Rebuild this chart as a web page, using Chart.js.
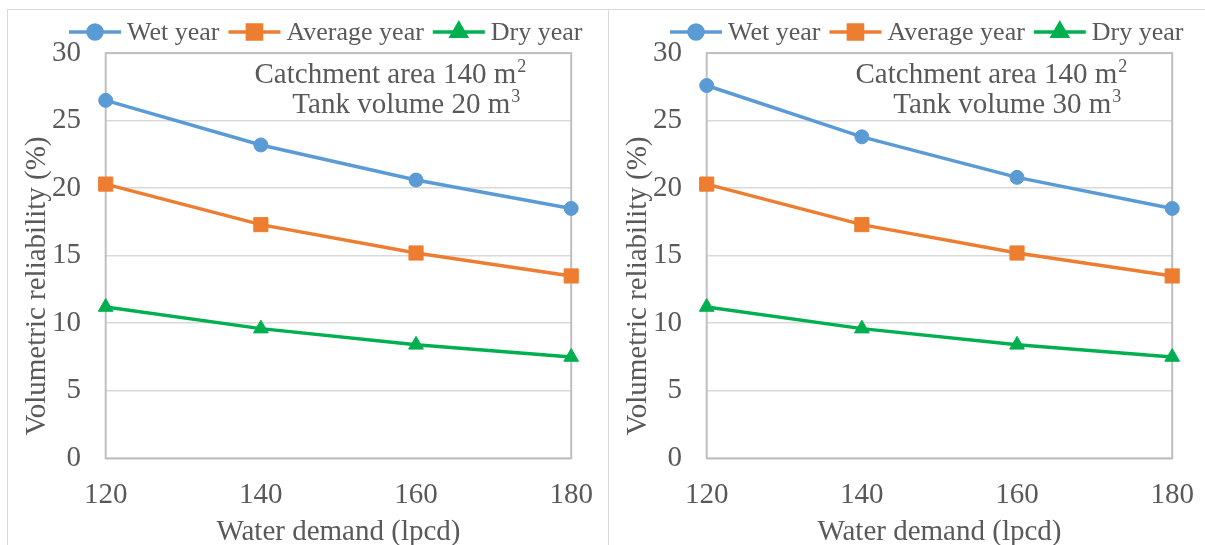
<!DOCTYPE html>
<html lang="en">
<head>
  <meta charset="UTF-8">
  <title>Volumetric reliability vs water demand</title>
  <script src="https://cdn.jsdelivr.net/npm/chart.js"></script>
  <style>
    html, body { margin: 0; padding: 0; background: #fff; overflow: hidden; }
    body { width: 1205px; height: 545px; position: relative; }
    .panel {
      position: absolute; top: 9px; height: 560px;
      border-top: 1.5px solid #d9d9d9; border-left: 1.5px solid #d9d9d9;
    }
    #panelA { left: 7px; width: 601px; }
    #panelB { left: 608px; width: 600px; }
    canvas { position: absolute; top: 1px; left: 0px; }
  </style>
</head>
<body>

<div class="panel" id="panelA"><canvas id="chartA" width="600" height="560"></canvas></div>
<div class="panel" id="panelB"><canvas id="chartB" width="600" height="560"></canvas></div>

<script>
  // Data
  const demand = ['120', '140', '160', '180'];   // lpcd
  const seriesNames = ['Wet year', 'Average year', 'Dry year'];

  // panel (a): tank 20 m3
  const wetA = [26.5, 23.2, 20.6, 18.5];
  const avgA = [20.3, 17.3, 15.2, 13.5];
  const dryA = [11.2, 9.6, 8.4, 7.5];

  // panel (b): tank 30 m3
  const wetB = [27.6, 23.8, 20.8, 18.5];
  const avgB = [20.3, 17.3, 15.2, 13.5];
  const dryB = [11.2, 9.6, 8.4, 7.5];

  const colors = ['#5b9bd5', '#ed7d31', '#00b050'];
  const markers = [
    { style: 'circle', radius: 7 },
    { style: 'rect', radius: 10 },
    { style: 'triangle', radius: 8.5 }
  ];

  const FONT = "'Liberation Serif', 'Times New Roman', serif";
  const TEXT = '#595959';

  // Excel-like legend (line + marker), y axis title and the note in the corner
  const decorations = {
    id: 'decorations',
    afterDraw(chart, args, opts) {
      const ctx = chart.ctx;
      const area = chart.chartArea;
      ctx.save();

      // legend
      let x = 61;
      const y = 21;
      ctx.font = '26px ' + FONT;
      ctx.textBaseline = 'middle';
      chart.data.datasets.forEach((ds, i) => {
        ctx.strokeStyle = ds.borderColor;
        ctx.fillStyle = ds.borderColor;
        ctx.lineWidth = 3.5;
        ctx.beginPath();
        ctx.moveTo(x, y);
        ctx.lineTo(x + 52, y);
        ctx.stroke();
        Chart.helpers.drawPoint(ctx, { pointStyle: ds.pointStyle, radius: ds.pointRadius, rotation: 0, borderWidth: 1 }, x + 26, y);
        ctx.fillStyle = TEXT;
        ctx.textAlign = 'left';
        ctx.fillText(ds.label, x + 58, y + 1);
        x += 58 + ctx.measureText(ds.label).width + 9;
      });

      // y axis title, centred on the whole panel like Excel does
      ctx.save();
      ctx.translate(29, 275);
      ctx.rotate(-Math.PI / 2);
      ctx.font = '29px ' + FONT;
      ctx.fillStyle = TEXT;
      ctx.textAlign = 'center';
      ctx.textBaseline = 'middle';
      ctx.fillText('Volumetric reliability (%)', 0, 0);
      ctx.restore();

      // note: catchment area and tank volume
      ctx.fillStyle = TEXT;
      ctx.textBaseline = 'alphabetic';
      ctx.textAlign = 'right';
      opts.note.forEach((line, k) => {
        const right = area.right - line.inset;
        const base = 71.5 + k * 30;
        ctx.font = '18px ' + FONT;
        const supW = ctx.measureText(line.sup).width;
        ctx.fillText(line.sup, right, base - 11);
        ctx.font = '29px ' + FONT;
        ctx.fillText(line.text, right - supW - 1, base);
      });

      ctx.restore();
    },
    beforeDatasetsDraw(chart) {
      // plot area border
      const {ctx, chartArea: a} = chart;
      ctx.save();
      ctx.strokeStyle = '#bfbfbf';
      ctx.lineWidth = 2;
      ctx.strokeRect(a.left, a.top, a.right - a.left, a.bottom - a.top);
      ctx.restore();
    }
  };

  function makeDatasets(wet, avg, dry) {
    return [wet, avg, dry].map((vals, i) => ({
      label: seriesNames[i],
      data: vals,
      borderColor: colors[i],
      backgroundColor: colors[i],
      borderWidth: 3.5,
      pointStyle: markers[i].style,
      pointRadius: markers[i].radius,
      pointBorderWidth: 1,
      pointHoverRadius: markers[i].radius,
      tension: 0,
      clip: false
    }));
  }

  function makeChart(id, datasets, tank) {
    return new Chart(document.getElementById(id), {
      type: 'line',
      data: { labels: demand, datasets: datasets },
      options: {
        responsive: false,
        animation: false,
        events: [],
        layout: { padding: { left: 0, top: 39.3, right: 36.8, bottom: 0 } },
        plugins: {
          legend: { display: false },
          tooltip: { enabled: false },
          decorations: {
            note: [
              { text: 'Catchment area 140 m', sup: '2', inset: 45 },
              { text: 'Tank volume ' + tank + ' m', sup: '3', inset: 51 }
            ]
          }
        },
        scales: {
          x: {
            type: 'category',
            offset: false,
            // gap under the plot comes from an invisible tick length so that
            // tick padding does not eat into the right margin
            grid: { display: false, drawTicks: true, tickLength: 19.5 },
            border: { display: false },
            ticks: { color: TEXT, font: { family: FONT, size: 29 }, padding: 0, maxRotation: 0 },
            title: {
              display: true, text: 'Water demand (lpcd)', color: TEXT,
              font: { family: FONT, size: 29 }, padding: { top: 0, bottom: 21 }
            },
            afterFit(scale) { scale.height = 112.7; }
          },
          y: {
            min: 0, max: 30,
            grid: { color: '#d9d9d9', lineWidth: 1.5, drawTicks: false },
            border: { display: false },
            ticks: { stepSize: 5, color: TEXT, font: { family: FONT, size: 29 }, padding: 24.7 },
            afterFit(scale) { scale.width = 97.7; }
          }
        }
      },
      plugins: [decorations]
    });
  }

  makeChart('chartA', makeDatasets(wetA, avgA, dryA), 20);
  makeChart('chartB', makeDatasets(wetB, avgB, dryB), 30);
</script>
</body>
</html>
